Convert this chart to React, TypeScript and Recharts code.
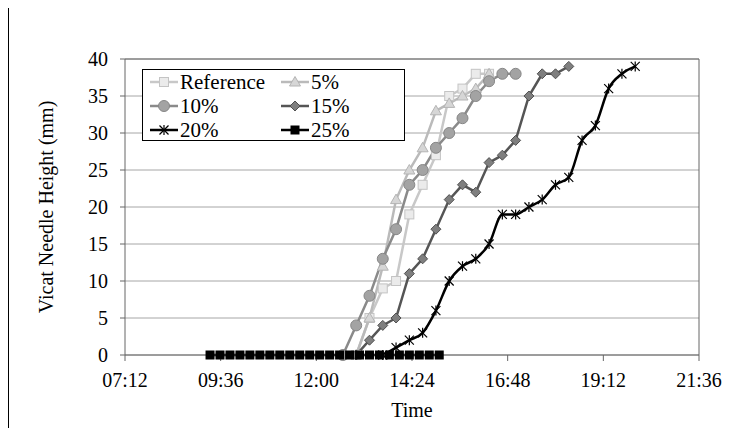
import React from 'react';
import { LineChart, Line, XAxis, YAxis, CartesianGrid, ReferenceLine, Legend } from 'recharts';

// times are minutes after midnight, values are needle heights in mm
const refTimes = [780, 800, 820, 840, 860, 880, 900, 920, 940, 960, 980];
const refValues = [0, 5, 9, 10, 19, 23, 27, 35, 36, 38, 38];

const p5Times = [780, 800, 820, 840, 860, 880, 900, 920, 940, 960, 980];
const p5Values = [0, 5, 12, 21, 25, 28, 33, 34, 35, 36, 38];

const p10Times = [760, 780, 800, 820, 840, 860, 880, 900, 920, 940, 960, 980, 1000, 1020];
const p10Values = [0, 4, 8, 13, 17, 23, 25, 28, 30, 32, 35, 37, 38, 38];

const p15Times = [780, 800, 820, 840, 860, 880, 900, 920, 940, 960, 980, 1000, 1020, 1040, 1060, 1080, 1100];
const p15Values = [0, 2, 4, 5, 11, 13, 17, 21, 23, 22, 26, 27, 29, 35, 38, 38, 39];

const p20Times = [820, 840, 860, 880, 900, 920, 940, 960, 980, 1000, 1020, 1040, 1060, 1080, 1100, 1120, 1140, 1160, 1180, 1200];
const p20Values = [0, 1, 2, 3, 6, 10, 12, 13, 15, 19, 19, 20, 21, 23, 24, 29, 31, 36, 38, 39];

const p25Times = [560, 575, 590, 605, 620, 635, 650, 665, 680, 695, 710, 725, 740, 755, 770, 785, 800, 815, 830, 845, 860, 875, 890, 905];
const p25Values = [0, 0, 0, 0, 0, 0, 0, 0, 0, 0, 0, 0, 0, 0, 0, 0, 0, 0, 0, 0, 0, 0, 0, 0];

const xTicks = [432, 576, 720, 864, 1008, 1152, 1296];
const yTicks = [0, 5, 10, 15, 20, 25, 30, 35, 40];

const FONT = '"Liberation Serif", "Times New Roman", serif';

const toRows = (times: number[], values: number[]) => times.map((t, i) => ({ t, v: values[i] }));

const fmtTime = (m: number) => {
    const h = Math.floor(m / 60);
    const mm = Math.round(m - h * 60);
    return `${String(h).padStart(2, '0')}:${String(mm).padStart(2, '0')}`;
};

type MarkerKind = 'square' | 'triangle' | 'circle' | 'diamond' | 'star' | 'block';

const Marker = ({ kind, cx, cy }: { kind: MarkerKind; cx: number; cy: number }) => {
    if (cx == null || cy == null) return null;
    switch (kind) {
        case 'square':
            return <rect x={cx - 4.5} y={cy - 4.5} width={9} height={9} fill="#ebebeb" stroke="#c4c4c4" strokeWidth={1} />;
        case 'triangle':
            return <polygon points={`${cx},${cy - 5.5} ${cx + 5.5},${cy + 4} ${cx - 5.5},${cy + 4}`} fill="#d6d6d6" stroke="#b4b4b4" strokeWidth={1} />;
        case 'circle':
            return <circle cx={cx} cy={cy} r={5.5} fill="#a3a3a3" stroke="#878787" strokeWidth={1} />;
        case 'diamond':
            return <polygon points={`${cx},${cy - 5} ${cx + 5},${cy} ${cx},${cy + 5} ${cx - 5},${cy}`} fill="#7f7f7f" stroke="#505050" strokeWidth={1} />;
        case 'star':
            return (
                <g stroke="#000" strokeWidth={1.2}>
                    <line x1={cx - 4.5} y1={cy - 4.5} x2={cx + 4.5} y2={cy + 4.5} />
                    <line x1={cx - 4.5} y1={cy + 4.5} x2={cx + 4.5} y2={cy - 4.5} />
                    <line x1={cx} y1={cy - 5} x2={cx} y2={cy + 5} />
                </g>
            );
        default:
            return <rect x={cx - 4.5} y={cy - 4.5} width={9} height={9} fill="#000" />;
    }
};

const series: { name: string; data: { t: number; v: number }[]; color: string; marker: MarkerKind; curve: 'linear' | 'monotone' }[] = [
    { name: 'Reference', data: toRows(refTimes, refValues), color: '#c8c8c8', marker: 'square', curve: 'linear' },
    { name: '5%', data: toRows(p5Times, p5Values), color: '#bababa', marker: 'triangle', curve: 'linear' },
    { name: '10%', data: toRows(p10Times, p10Values), color: '#8a8a8a', marker: 'circle', curve: 'linear' },
    { name: '15%', data: toRows(p15Times, p15Values), color: '#555555', marker: 'diamond', curve: 'linear' },
    { name: '20%', data: toRows(p20Times, p20Values), color: '#000000', marker: 'star', curve: 'monotone' },
    { name: '25%', data: toRows(p25Times, p25Values), color: '#000000', marker: 'block', curve: 'linear' },
];

const LegendBox = () => (
    <div style={{ position: 'relative', width: 263, height: 72, boxSizing: 'border-box', border: '1px solid #000', background: '#fff', fontFamily: FONT, fontSize: 21, color: '#000' }}>
        {series.map((s, i) => (
            <div key={s.name} style={{ position: 'absolute', left: i % 2 === 0 ? 6 : 137, top: Math.floor(i / 2) * 24, height: 24, display: 'flex', alignItems: 'center', lineHeight: '24px' }}>
                <svg width={30} height={24}>
                    <line x1={1} y1={12} x2={29} y2={12} stroke={s.color} strokeWidth={2.5} />
                    <Marker kind={s.marker} cx={15} cy={12} />
                </svg>
                <span style={{ marginLeft: 1 }}>{s.name}</span>
            </div>
        ))}
    </div>
);

const tickStyle = { fontSize: 20, fill: '#000', fontFamily: FONT };

const App: React.FC = () => {
    return (
        <div style={{ position: 'relative', top: -2, width: 744, height: 421, borderLeft: '1px solid #000', borderTop: '1px solid #000', fontFamily: FONT }}>
            <LineChart width={744} height={421} margin={{ top: 52, right: 54, bottom: 43, left: 16 }} style={{ fontFamily: FONT }}>
                <CartesianGrid vertical={false} stroke="#a6a6a6" />
                <XAxis
                    type="number"
                    dataKey="t"
                    domain={[432, 1296]}
                    ticks={xTicks}
                    interval={0}
                    tickFormatter={fmtTime}
                    height={30}
                    tickSize={6}
                    tickMargin={12}
                    stroke="#666"
                    tick={tickStyle}
                    label={{ value: 'Time', position: 'bottom', offset: 18, style: tickStyle }}
                />
                <YAxis
                    type="number"
                    domain={[0, 40]}
                    ticks={yTicks}
                    interval={0}
                    width={100}
                    tickSize={5}
                    tickMargin={12}
                    stroke="#666"
                    tick={tickStyle}
                    label={{ value: 'Vicat Needle Height (mm)', angle: -90, position: 'insideLeft', offset: 21, style: { ...tickStyle, textAnchor: 'middle' } }}
                />
                <ReferenceLine y={40} stroke="#666" />
                <ReferenceLine x={1296} stroke="#666" />
                {series.map((s) => (
                    <Line
                        key={s.name}
                        data={s.data}
                        dataKey="v"
                        name={s.name}
                        type={s.curve}
                        stroke={s.color}
                        strokeWidth={2.5}
                        dot={(p: any) => <Marker key={`${s.name}-${p.index}`} kind={s.marker} cx={p.cx} cy={p.cy} />}
                        activeDot={false}
                        isAnimationActive={false}
                    />
                ))}
                <Legend
                    layout="horizontal"
                    verticalAlign="middle"
                    align="center"
                    wrapperStyle={{ left: 133, top: 62, width: 263, height: 72 }}
                    content={() => <LegendBox />}
                />
            </LineChart>
        </div>
    );
};

export default App;
